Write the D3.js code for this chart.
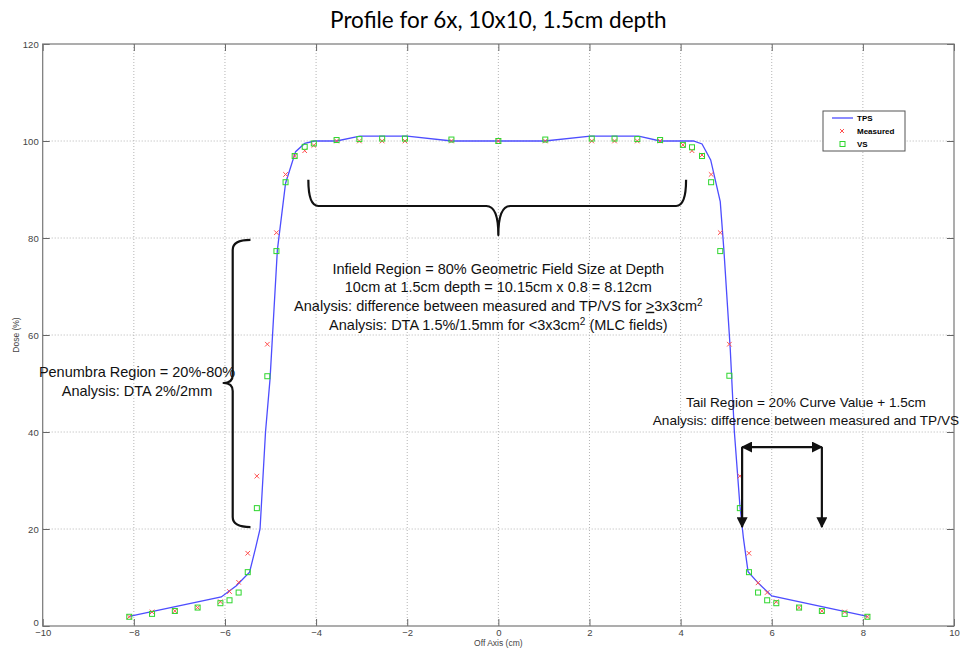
<!DOCTYPE html>
<html>
<head>
<meta charset="utf-8">
<script src="https://cdn.jsdelivr.net/npm/d3@7"></script>
<style>
  body { margin: 0; background: #fff; }
  text { font-family: "Liberation Sans", Arial, sans-serif; }
  .note { font-family: Lato, "Open Sans", sans-serif; font-size: 14.5px; fill: #111; }
</style>
</head>
<body>
<div id="chart"></div>
<script>
// TPS calculated profile (blue line)
const tpsX = [-8.1, -6.08, -5.75, -5.46, -5.33, -5.23, -5.11, -5.01, -4.85, -4.67, -4.45, -4.25, -4.03,
  -3.55, -3.04, -2.0, -1.02, 1.02, 2.02, 3.08, 3.55, 4.28, 4.47, 4.66, 4.87, 4.95, 5.09, 5.18, 5.3, 5.38,
  5.48, 5.71, 6.0, 8.1];
const tpsDose = [2.0, 6.0, 8.3, 11.1, 16.0, 20.0, 40.0, 51.0, 77.5, 91.3, 97.8, 99.5, 100,
  100, 101, 101, 100, 100, 101, 101, 100, 100, 99.4, 96.1, 87.5, 77.5, 57.0, 40.0, 25.0, 18.0,
  11.2, 8.8, 6.2, 2.0];

// measurement positions shared by Measured and VS
const pointX = [-8.1, -7.6, -7.1, -6.6, -6.1, -5.9, -5.7, -5.5, -5.3, -5.07, -4.87, -4.67, -4.47, -4.25, -4.05,
  -3.55, -3.05, -2.55, -2.05, -1.03, 0, 1.03, 2.05, 2.55, 3.05, 3.55,
  4.05, 4.25, 4.47, 4.67, 4.87, 5.07, 5.3, 5.5, 5.7, 5.9, 6.1, 6.6, 7.1, 7.6, 8.1];
const measuredDose = [1.9, 2.9, 3.1, 3.8, 5.0, 7.1, 9.0, 15.0, 30.9, 58.1, 81.1, 93.1, 96.9, 98.0, 99.1,
  100, 100, 100, 100, 100, 100, 100, 100, 100, 100, 100,
  99.2, 98.0, 97.1, 93.1, 81.1, 58.1, 30.9, 15.0, 8.9, 6.9, 5.0, 3.8, 3.1, 2.9, 1.9];
const vsDose = [1.9, 2.5, 3.1, 3.8, 4.7, 5.3, 6.9, 11.1, 24.3, 51.5, 77.3, 91.5, 96.9, 98.8, 99.5,
  100.2, 100.4, 100.5, 100.5, 100.3, 100, 100.3, 100.5, 100.5, 100.4, 100.2,
  99.2, 98.7, 96.9, 91.5, 77.3, 51.6, 24.3, 11.1, 6.9, 5.3, 4.7, 3.8, 3.1, 2.5, 1.9];

const xTicks = [-10, -8, -6, -4, -2, 0, 2, 4, 6, 8, 10];
const yTicks = [0, 20, 40, 60, 80, 100, 120];
const legendNames = ["TPS", "Measured", "VS"];

const width = 963, height = 650;
const L = 42.7, R = 954, T = 44, B = 626;
const LINE_COLOR = "#4d4dff", MEAS_COLOR = "#ff5050", VS_COLOR = "#2ed62e";

const x = d3.scaleLinear().domain([-10, 10]).range([L, R]);
const y = d3.scaleLinear().domain([0, 120]).range([B, T]);

const svg = d3.select("#chart").append("svg")
  .attr("width", width)
  .attr("height", height);

svg.append("text")
  .attr("x", (L + R) / 2).attr("y", 28)
  .attr("text-anchor", "middle")
  .style("font-family", "Lato, sans-serif")
  .style("font-size", "22.5px")
  .text("Profile for 6x, 10x10, 1.5cm depth");

// grid
const grid = svg.append("g").attr("stroke", "#b5b5b5").attr("stroke-dasharray", "1,2");
grid.selectAll(".gx").data(xTicks.slice(1, -1)).enter().append("line")
  .attr("x1", d => x(d)).attr("x2", d => x(d)).attr("y1", T).attr("y2", B);
grid.selectAll(".gy").data(yTicks.slice(1, -1)).enter().append("line")
  .attr("y1", d => y(d)).attr("y2", d => y(d)).attr("x1", L).attr("x2", R);

// axes (ticks point inward, MATLAB style)
svg.append("g").attr("transform", "translate(0," + B + ")")
  .call(d3.axisBottom(x).tickValues(xTicks).tickSizeInner(-7).tickSizeOuter(0).tickPadding(3));
const yAxis = svg.append("g").attr("transform", "translate(" + L + ",0)")
  .call(d3.axisLeft(y).tickValues(yTicks).tickSizeInner(-7).tickSizeOuter(0).tickPadding(4));
yAxis.selectAll(".tick text").filter(d => d === 0).attr("dy", "-0.05em");
svg.append("g").attr("transform", "translate(0," + T + ")")
  .call(d3.axisTop(x).tickValues(xTicks).tickSizeInner(-7).tickSizeOuter(0).tickFormat(""));
svg.append("g").attr("transform", "translate(" + R + ",0)")
  .call(d3.axisRight(y).tickValues(yTicks).tickSizeInner(-7).tickSizeOuter(0).tickFormat(""));
svg.selectAll(".domain").attr("stroke", "none");
svg.selectAll(".tick line").attr("stroke", "#666");
svg.selectAll(".tick text").attr("fill", "#444").style("font-size", "9.5px");

svg.append("rect")
  .attr("x", L).attr("y", T).attr("width", R - L).attr("height", B - T)
  .attr("fill", "none").attr("stroke", "#777").attr("stroke-width", 1.2);

svg.append("text")
  .attr("x", (L + R) / 2).attr("y", 646)
  .attr("text-anchor", "middle").attr("fill", "#444")
  .style("font-size", "8.5px")
  .text("Off Axis (cm)");
svg.append("text")
  .attr("transform", "translate(19," + ((T + B) / 2) + ") rotate(-90)")
  .attr("text-anchor", "middle").attr("fill", "#444")
  .style("font-size", "8.5px")
  .text("Dose (%)");

// TPS line
const line = d3.line().x((d, i) => x(tpsX[i])).y(d => y(d));
svg.append("path")
  .datum(tpsDose)
  .attr("d", line)
  .attr("fill", "none")
  .attr("stroke", LINE_COLOR)
  .attr("stroke-width", 1.3);

// Measured (x markers)
const cross = 2.3;
svg.append("g").selectAll("path").data(measuredDose).enter().append("path")
  .attr("d", (d, i) => {
    const cx = x(pointX[i]), cy = y(d);
    return "M" + (cx - cross) + "," + (cy - cross) + "L" + (cx + cross) + "," + (cy + cross)
      + "M" + (cx - cross) + "," + (cy + cross) + "L" + (cx + cross) + "," + (cy - cross);
  })
  .attr("stroke", MEAS_COLOR).attr("stroke-width", 1).attr("fill", "none");

// VS (hollow squares)
const sq = 5;
svg.append("g").selectAll("rect").data(vsDose).enter().append("rect")
  .attr("x", (d, i) => x(pointX[i]) - sq / 2)
  .attr("y", d => y(d) - sq / 2)
  .attr("width", sq).attr("height", sq)
  .attr("fill", "none").attr("stroke", VS_COLOR).attr("stroke-width", 1);

// legend
const lg = svg.append("g").attr("transform", "translate(823,111)");
lg.append("rect").attr("width", 82).attr("height", 40)
  .attr("fill", "#fff").attr("stroke", "#555").attr("stroke-width", 1);
legendNames.forEach((name, i) => {
  const cy = 7 + i * 13;
  if (i === 0) {
    lg.append("line").attr("x1", 9).attr("x2", 30).attr("y1", cy).attr("y2", cy)
      .attr("stroke", LINE_COLOR).attr("stroke-width", 1.3);
  } else if (i === 1) {
    lg.append("path")
      .attr("d", "M17," + (cy - 2) + "L21," + (cy + 2) + "M17," + (cy + 2) + "L21," + (cy - 2))
      .attr("stroke", MEAS_COLOR).attr("stroke-width", 1);
  } else {
    lg.append("rect").attr("x", 17).attr("y", cy - 2.5).attr("width", 5).attr("height", 5)
      .attr("fill", "none").attr("stroke", VS_COLOR);
  }
  lg.append("text").attr("x", 34).attr("y", cy + 3)
    .style("font-size", "8px").style("font-weight", "bold")
    .text(name);
});

// annotations
const ann = svg.append("g").attr("fill", "none").attr("stroke", "#111")
  .attr("stroke-width", 2.2).attr("stroke-linejoin", "round");

// infield brace
const bx0 = x(-4.17), bx1 = x(4.12), bxm = x(0), by0 = y(92), by1 = y(86.6), byT = y(80.6);
ann.append("path").attr("d",
  "M" + bx0 + "," + by0 + " Q" + bx0 + "," + by1 + " " + (bx0 + 10) + "," + by1 +
  " L" + (bxm - 12) + "," + by1 + " Q" + bxm + "," + by1 + " " + bxm + "," + byT +
  " Q" + bxm + "," + by1 + " " + (bxm + 12) + "," + by1 +
  " L" + (bx1 - 10) + "," + by1 + " Q" + bx1 + "," + by1 + " " + bx1 + "," + by0);

// penumbra brace
const px0 = x(-5.83), pxE = x(-5.44), pxT = x(-6.03), py0 = y(79.6), py1 = y(20.4), pyM = y(50.1);
ann.append("path").attr("d",
  "M" + pxE + "," + py0 + " Q" + px0 + "," + py0 + " " + px0 + "," + (py0 + 10) +
  " L" + px0 + "," + (pyM - 8) + " Q" + px0 + "," + pyM + " " + pxT + "," + pyM +
  " Q" + px0 + "," + pyM + " " + px0 + "," + (pyM + 8) +
  " L" + px0 + "," + (py1 - 10) + " Q" + px0 + "," + py1 + " " + pxE + "," + py1);

// tail arrows
svg.append("defs").append("marker")
  .attr("id", "arrowHead")
  .attr("viewBox", "0 0 10 10")
  .attr("refX", 9).attr("refY", 5)
  .attr("markerUnits", "userSpaceOnUse")
  .attr("markerWidth", 11).attr("markerHeight", 11)
  .attr("orient", "auto-start-reverse")
  .append("path").attr("d", "M0,0 L10,5 L0,10 z").attr("fill", "#111");
const tx0 = x(5.35), tx1 = x(7.1), ty0 = y(36.9), ty1 = y(20.4);
ann.append("line").attr("x1", tx0).attr("x2", tx1).attr("y1", ty0).attr("y2", ty0)
  .attr("marker-start", "url(#arrowHead)").attr("marker-end", "url(#arrowHead)");
ann.append("line").attr("x1", tx0).attr("x2", tx0).attr("y1", ty0).attr("y2", ty1)
  .attr("marker-end", "url(#arrowHead)");
ann.append("line").attr("x1", tx1).attr("x2", tx1).attr("y1", ty0).attr("y2", ty1)
  .attr("marker-end", "url(#arrowHead)");

// annotation text
const infield = svg.append("g").attr("class", "note").attr("text-anchor", "middle");
infield.append("text").attr("x", bxm).attr("y", y(72.6)).text("Infield Region = 80% Geometric Field Size at Depth");
infield.append("text").attr("x", bxm).attr("y", y(68.8)).text("10cm at 1.5cm depth = 10.15cm x 0.8 = 8.12cm");
const t3 = infield.append("text").attr("x", bxm).attr("y", y(65.0));
t3.append("tspan").text("Analysis: difference between measured and TP/VS for ");
t3.append("tspan").style("text-decoration", "underline").text(">");
t3.append("tspan").text("3x3cm");
t3.append("tspan").attr("dy", -5).style("font-size", "10px").text("2");
const t4 = infield.append("text").attr("x", bxm).attr("y", y(61.1));
t4.append("tspan").text("Analysis: DTA 1.5%/1.5mm for <3x3cm");
t4.append("tspan").attr("dy", -5).style("font-size", "10px").text("2");
t4.append("tspan").attr("dy", 5).text(" (MLC fields)");

const pen = svg.append("g").attr("class", "note").attr("text-anchor", "middle");
pen.append("text").attr("x", x(-7.93)).attr("y", y(51.4)).text("Penumbra Region = 20%-80%");
pen.append("text").attr("x", x(-7.93)).attr("y", y(47.4)).text("Analysis: DTA 2%/2mm");

const tail = svg.append("g").attr("class", "note").attr("text-anchor", "middle")
  .style("font-size", "13.6px");
tail.append("text").attr("x", x(6.75)).attr("y", y(45.2)).text("Tail Region = 20% Curve Value + 1.5cm");
tail.append("text").attr("x", x(6.75)).attr("y", y(41.4)).text("Analysis: difference between measured and TP/VS");
</script>
</body>
</html>
